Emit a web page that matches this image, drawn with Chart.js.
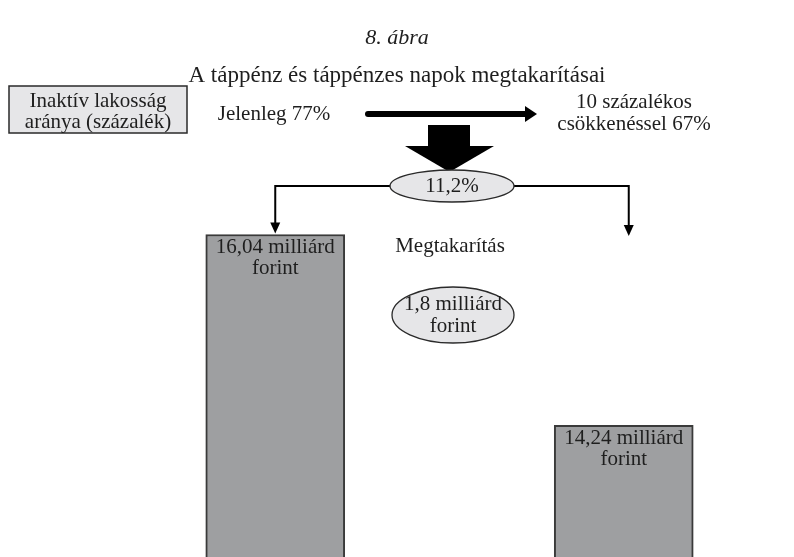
<!DOCTYPE html>
<html>
<head>
<meta charset="utf-8">
<script src="https://cdn.jsdelivr.net/npm/chart.js@4/dist/chart.umd.min.js"></script>
<style>
html,body{margin:0;padding:0;background:#fff;overflow:hidden;}
#wrap{width:794px;height:557px;position:relative;overflow:hidden;}
</style>
</head>
<body>
<div id="wrap"><canvas id="c" width="798" height="557"></canvas></div>
<script>
const categories = ['Jelenleg', '10 százalékos csökkenéssel'];
const values = [16.04, 14.24];
const barLabels = [['16,04 milliárd', 'forint'], ['14,24 milliárd', 'forint']];
const figureNo = '8. ábra';
const titleText = 'A táppénz és táppénzes napok megtakarításai';
const boxLines = ['Inaktív lakosság', 'aránya (százalék)'];
const currentText = 'Jelenleg 77%';
const reducedLines = ['10 százalékos', 'csökkenéssel 67%'];
const shareText = '11,2%';
const savingTitle = 'Megtakarítás';
const savingLines = ['1,8 milliárd', 'forint'];
const axisMin = 13.0;
const axisMax = 18.25;

const SERIF = '"Liberation Serif", "DejaVu Serif", serif';
const INK = '#1e1e1e';

function arrowHeadDown(ctx, x, y, w, h) {
  ctx.beginPath();
  ctx.moveTo(x - w / 2, y - h);
  ctx.lineTo(x + w / 2, y - h);
  ctx.lineTo(x, y);
  ctx.closePath();
  ctx.fill();
}
function ellipse(ctx, cx, cy, rx, ry) {
  ctx.beginPath();
  ctx.ellipse(cx, cy, rx, ry, 0, 0, Math.PI * 2);
  ctx.fillStyle = '#e6e6e8';
  ctx.fill();
  ctx.lineWidth = 1.3;
  ctx.strokeStyle = '#2a2a2a';
  ctx.stroke();
}

const diagramPlugin = {
  id: 'diagram',
  afterDraw(chart) {
    const ctx = chart.ctx;
    const meta = chart.getDatasetMeta(0);
    const b1 = meta.data[0], b2 = meta.data[1];
    ctx.save();
    ctx.fillStyle = INK;
    ctx.textAlign = 'center';
    ctx.textBaseline = 'middle';
    // titles
    ctx.font = 'italic 22px ' + SERIF;
    ctx.fillText(figureNo, 397, 38);
    ctx.font = '23px ' + SERIF;
    ctx.fillText(titleText, 397, 76);

    // box
    ctx.fillStyle = '#e6e6e8';
    ctx.fillRect(9, 86, 178, 47);
    ctx.lineWidth = 1.5;
    ctx.strokeStyle = '#2a2a2a';
    ctx.strokeRect(9, 86, 178, 47);
    ctx.fillStyle = INK;
    ctx.font = '21px ' + SERIF;
    ctx.fillText(boxLines[0], 98, 101);
    ctx.fillText(boxLines[1], 98, 122);

    ctx.fillText(currentText, 274, 114);
    ctx.fillText(reducedLines[0], 634, 102);
    ctx.fillText(reducedLines[1], 634, 124);

    // horizontal arrow
    ctx.strokeStyle = '#000';
    ctx.lineWidth = 6;
    ctx.lineCap = 'round';
    ctx.beginPath();
    ctx.moveTo(368, 114);
    ctx.lineTo(528, 114);
    ctx.stroke();
    ctx.fillStyle = '#000';
    ctx.beginPath();
    ctx.moveTo(525, 106);
    ctx.lineTo(537, 114);
    ctx.lineTo(525, 122);
    ctx.closePath();
    ctx.fill();

    // big down arrow
    ctx.fillRect(428, 125, 42, 22);
    ctx.beginPath();
    ctx.moveTo(405, 146);
    ctx.lineTo(494, 146);
    ctx.lineTo(449.5, 172);
    ctx.closePath();
    ctx.fill();

    // branch lines
    const x1 = b1.x, x2 = b2.x + 5;
    ctx.lineCap = 'butt';
    ctx.lineWidth = 2;
    ctx.strokeStyle = '#000';
    ctx.beginPath();
    ctx.moveTo(400, 186);
    ctx.lineTo(x1, 186);
    ctx.lineTo(x1, 226);
    ctx.stroke();
    ctx.beginPath();
    ctx.moveTo(505, 186);
    ctx.lineTo(x2, 186);
    ctx.lineTo(x2, 228);
    ctx.stroke();
    arrowHeadDown(ctx, x1, b1.y - 1, 10, 11);
    arrowHeadDown(ctx, x2, 236, 10, 11);

    ellipse(ctx, 452, 186, 62, 16);
    ctx.fillStyle = INK;
    ctx.font = '21px ' + SERIF;
    ctx.fillText(shareText, 452, 186);

    ctx.fillText(savingTitle, 450, 246);
    ellipse(ctx, 453, 315, 61, 28);
    ctx.fillStyle = INK;
    ctx.fillText(savingLines[0], 453, 304);
    ctx.fillText(savingLines[1], 453, 326);

    // bar labels
    [b1, b2].forEach((b, i) => {
      ctx.fillText(barLabels[i][0], b.x, b.y + 13);
      ctx.fillText(barLabels[i][1], b.x, b.y + 34);
    });
    ctx.restore();
  }
};

new Chart(document.getElementById('c'), {
  type: 'bar',
  data: {
    labels: categories,
    datasets: [{
      data: values,
      backgroundColor: '#9e9fa1',
      borderColor: '#3a3a3a',
      borderWidth: {top: 2, left: 2, right: 2, bottom: 0},
      borderSkipped: 'bottom',
      barThickness: 139
    }]
  },
  options: {
    responsive: false,
    animation: false,
    layout: {padding: {left: 101, right: 0, top: 0, bottom: 0}},
    plugins: {legend: {display: false}, tooltip: {enabled: false}, title: {display: false}},
    scales: {
      x: {display: false},
      y: {display: false, min: axisMin, max: axisMax}
    }
  },
  plugins: [diagramPlugin]
});
</script>
</body>
</html>
